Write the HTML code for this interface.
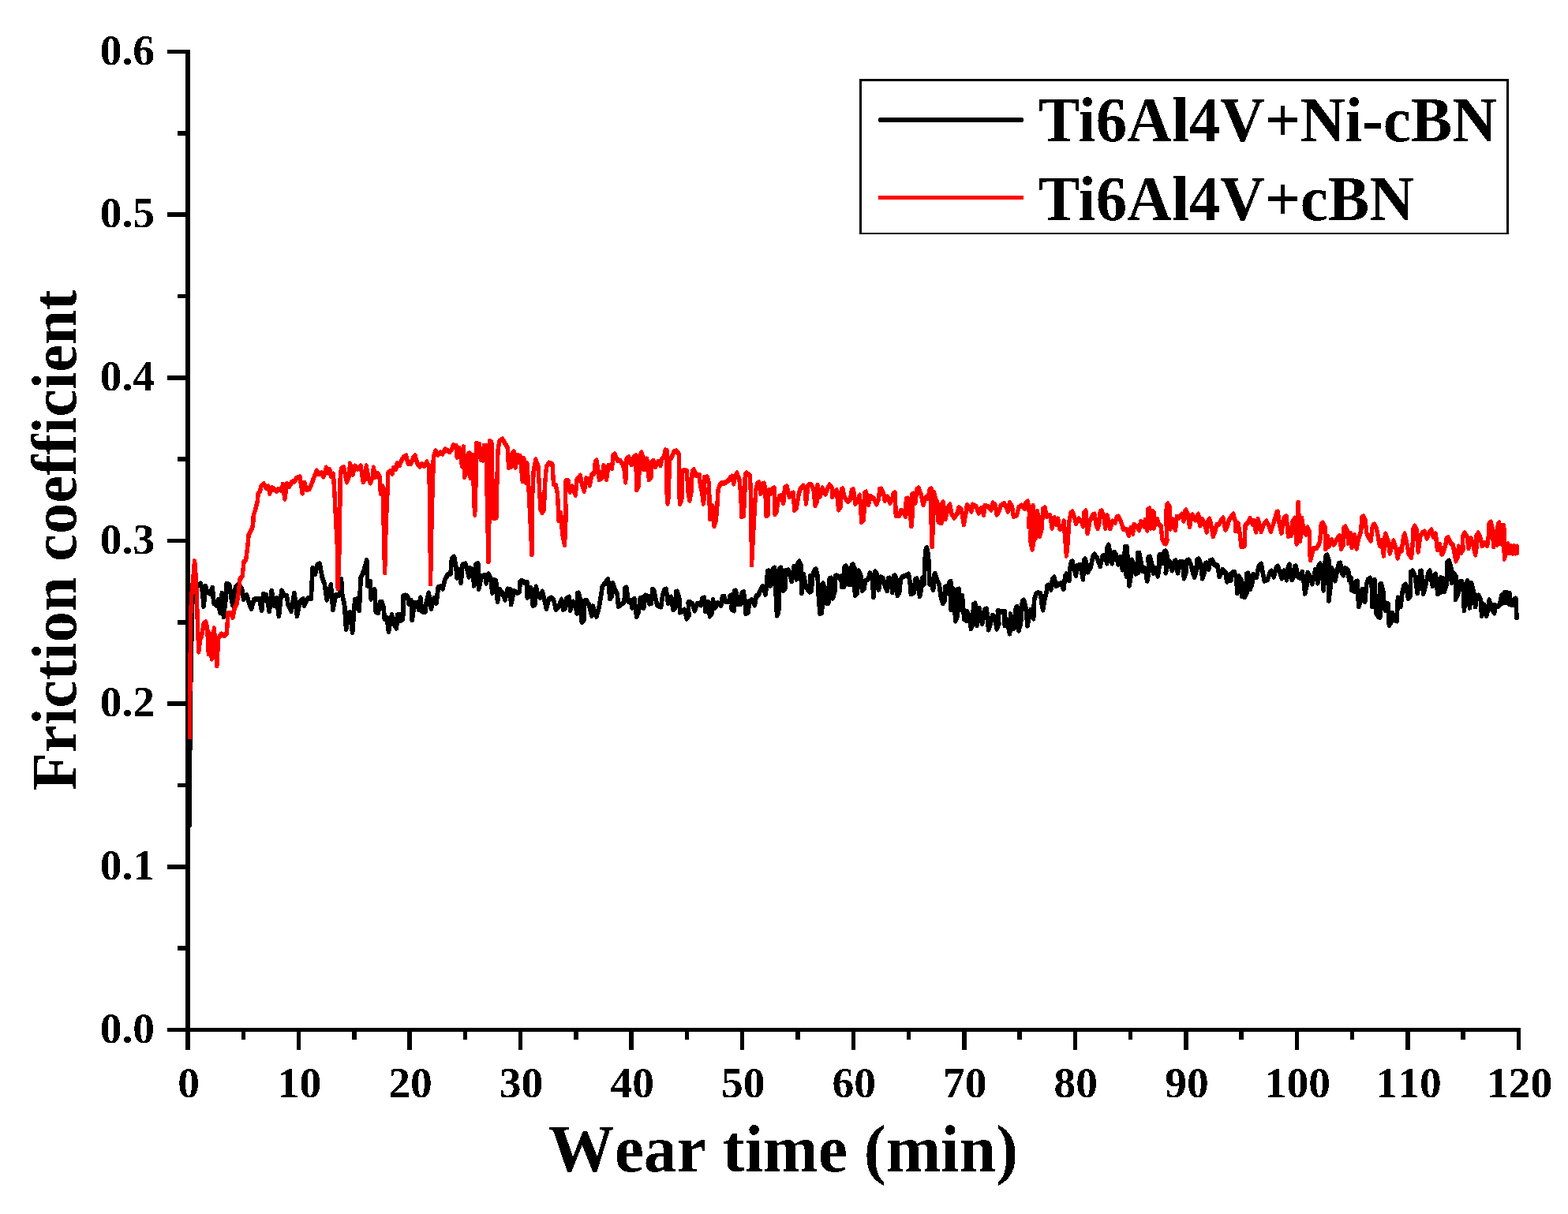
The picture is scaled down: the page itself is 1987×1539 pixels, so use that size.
<!DOCTYPE html>
<html lang="en">
<head>
<meta charset="utf-8">
<title>Friction coefficient vs wear time</title>
<style>
html,body{margin:0;padding:0;background:#fff;}
body{width:1987px;height:1539px;overflow:hidden;}
svg{display:block;}
text{font-family:"Liberation Serif","DejaVu Serif",serif;font-weight:bold;fill:#000;font-kerning:none;font-variant-ligatures:none;font-feature-settings:"kern" 0,"liga" 0,"clig" 0;}
.tick{font-size:55.5px;}
.title{font-size:85px;}
.ytitle{font-size:80.5px;}
.leg{font-size:79.5px;font-kerning:normal;font-feature-settings:"kern" 1,"liga" 0,"clig" 0;}
</style>
</head>
<body>
<svg width="1987" height="1539" viewBox="0 0 1987 1539">
<defs>
<filter id="crisp" x="-5%" y="-5%" width="110%" height="110%" color-interpolation-filters="sRGB">
<feComponentTransfer><feFuncA type="discrete" tableValues="0 1"/></feComponentTransfer>
</filter>
</defs>
<rect x="0" y="0" width="1987" height="1539" fill="#ffffff"/>

<g shape-rendering="crispEdges" fill="#000">
<rect x="235" y="63" width="6" height="1268"/>
<rect x="212" y="1303" width="1715" height="5"/>
<rect x="212" y="1303" width="24" height="5"/>
<rect x="225" y="1199" width="11" height="6"/>
<rect x="212" y="1096" width="24" height="6"/>
<rect x="225" y="993" width="11" height="5"/>
<rect x="212" y="889" width="24" height="6"/>
<rect x="225" y="786" width="11" height="6"/>
<rect x="212" y="683" width="24" height="5"/>
<rect x="225" y="579" width="11" height="6"/>
<rect x="212" y="476" width="24" height="6"/>
<rect x="225" y="373" width="11" height="5"/>
<rect x="212" y="269" width="24" height="6"/>
<rect x="225" y="166" width="11" height="6"/>
<rect x="212" y="63" width="24" height="5"/>
<rect x="235" y="1305" width="6" height="26"/>
<rect x="306" y="1305" width="5" height="13"/>
<rect x="376" y="1305" width="5" height="26"/>
<rect x="446" y="1305" width="6" height="13"/>
<rect x="516" y="1305" width="6" height="26"/>
<rect x="587" y="1305" width="5" height="13"/>
<rect x="657" y="1305" width="5" height="26"/>
<rect x="727" y="1305" width="6" height="13"/>
<rect x="797" y="1305" width="6" height="26"/>
<rect x="868" y="1305" width="5" height="13"/>
<rect x="938" y="1305" width="5" height="26"/>
<rect x="1008" y="1305" width="6" height="13"/>
<rect x="1079" y="1305" width="5" height="26"/>
<rect x="1149" y="1305" width="5" height="13"/>
<rect x="1219" y="1305" width="6" height="26"/>
<rect x="1289" y="1305" width="6" height="13"/>
<rect x="1360" y="1305" width="5" height="26"/>
<rect x="1430" y="1305" width="5" height="13"/>
<rect x="1500" y="1305" width="6" height="26"/>
<rect x="1570" y="1305" width="6" height="13"/>
<rect x="1641" y="1305" width="5" height="26"/>
<rect x="1711" y="1305" width="5" height="13"/>
<rect x="1781" y="1305" width="6" height="26"/>
<rect x="1851" y="1305" width="6" height="13"/>
<rect x="1922" y="1305" width="5" height="26"/>
</g>
<g filter="url(#crisp)">
<text class="tick" x="196" y="1321.5" text-anchor="end">0.0</text>
<text class="tick" x="196" y="1114.8" text-anchor="end">0.1</text>
<text class="tick" x="196" y="908.2" text-anchor="end">0.2</text>
<text class="tick" x="196" y="701.5" text-anchor="end">0.3</text>
<text class="tick" x="196" y="494.8" text-anchor="end">0.4</text>
<text class="tick" x="196" y="288.2" text-anchor="end">0.5</text>
<text class="tick" x="196" y="81.5" text-anchor="end">0.6</text>
<text class="tick" x="239.0" y="1391" text-anchor="middle">0</text>
<text class="tick" x="379.5" y="1391" text-anchor="middle">10</text>
<text class="tick" x="520.1" y="1391" text-anchor="middle">20</text>
<text class="tick" x="660.6" y="1391" text-anchor="middle">30</text>
<text class="tick" x="801.2" y="1391" text-anchor="middle">40</text>
<text class="tick" x="941.7" y="1391" text-anchor="middle">50</text>
<text class="tick" x="1082.2" y="1391" text-anchor="middle">60</text>
<text class="tick" x="1222.8" y="1391" text-anchor="middle">70</text>
<text class="tick" x="1363.3" y="1391" text-anchor="middle">80</text>
<text class="tick" x="1503.9" y="1391" text-anchor="middle">90</text>
<text class="tick" x="1644.4" y="1391" text-anchor="middle">100</text>
<text class="tick" x="1785.0" y="1391" text-anchor="middle">110</text>
<text class="tick" x="1925.5" y="1391" text-anchor="middle">120</text>
</g>
<g shape-rendering="crispEdges">
<polyline transform="scale(1,1.2)" points="240.2,871.7 240.4,816.7 241.3,737.5 242.5,683.3 243.8,633.3 245.5,620.8 254.2,616.7 256.7,625.4 258.2,640.5 260.4,619.2 262.7,625.4 265.8,627.0 269.3,620.9 270.8,637.1 274.3,639.6 276.3,633.7 278.9,647.2 281.4,626.8 283.4,651.5 285.9,633.7 287.2,616.7 290.9,618.2 293.5,633.7 295.0,639.6 298.5,620.3 302.0,617.0 306.5,622.0 308.6,632.9 312.6,628.7 315.6,637.1 318.6,643.1 321.7,633.7 324.7,632.5 328.7,632.9 331.7,644.8 333.7,627.5 337.3,628.7 341.3,645.7 344.3,624.1 347.3,639.6 350.4,632.1 353.4,650.7 356.9,624.1 359.9,628.7 363.4,629.5 365.0,638.8 369.0,645.7 373.0,626.6 376.5,650.7 380.1,635.4 384.1,632.9 385.6,639.6 390.1,632.1 394.2,632.1 396.2,600.2 399.2,606.5 402.2,596.8 405.2,595.6 408.3,610.2 411.3,617.0 414.3,633.7 416.3,625.4 419.3,617.8 421.9,644.0 425.4,628.7 430.0,628.7 432.5,611.9 433.5,627.0 436.6,639.6 438.6,664.8 441.6,648.0 443.6,647.2 446.6,668.2 449.7,633.7 452.2,632.9 455.2,644.7 457.2,610.2 461.2,602.7 464.8,591.8 465.8,618.6 469.3,614.4 470.3,632.9 474.8,622.8 476.3,646.3 479.4,647.2 481.4,636.3 483.9,635.8 485.9,641.3 487.4,653.9 490.4,653.0 492.5,667.3 495.5,653.0 496.5,649.7 499.0,658.9 502.5,663.5 503.5,649.7 506.0,649.3 507.6,655.6 510.6,653.9 511.1,629.5 513.6,629.1 516.6,630.0 518.1,637.9 521.2,634.6 522.2,655.1 525.2,637.1 528.7,636.7 530.7,643.8 532.7,631.6 534.7,645.9 538.8,646.3 540.3,636.3 543.3,626.6 546.3,643.0 549.9,632.1 552.9,637.1 555.4,620.3 558.9,619.5 560.9,622.0 564.0,611.9 567.5,606.9 571.0,606.1 572.5,590.1 575.5,588.3 578.1,600.2 579.1,610.2 581.6,601.9 584.1,615.7 586.1,596.8 589.6,595.6 592.1,601.9 594.2,609.4 595.7,600.2 599.2,602.7 600.7,618.6 603.2,596.0 605.7,595.6 606.8,622.0 610.3,608.6 615.3,607.7 616.3,616.1 619.3,606.5 621.9,611.1 623.9,626.2 626.4,612.8 628.5,613.6 630.5,635.4 633.0,622.8 636.6,626.2 640.1,633.7 643.1,622.4 646.6,622.8 647.6,638.4 651.2,624.5 655.2,626.2 658.2,625.4 659.2,614.4 661.4,613.4 665.3,615.7 667.8,615.3 668.3,631.2 671.3,628.7 672.8,621.2 675.3,639.6 677.8,638.8 679.4,619.9 681.4,628.7 684.4,631.2 687.4,624.9 689.4,632.1 692.5,643.0 695.5,632.9 698.5,631.6 701.5,633.7 704.5,643.8 707.6,641.3 711.6,633.3 713.6,643.8 716.6,642.1 718.1,632.1 721.2,630.8 722.7,644.7 726.2,635.8 728.7,638.8 731.2,648.0 731.7,627.0 733.2,626.6 735.3,633.7 737.3,657.2 739.8,655.6 740.8,634.6 743.3,634.2 746.3,638.8 749.9,650.5 751.4,640.5 755.9,651.4 758.9,642.1 760.9,632.9 763.4,619.5 765.0,617.8 768.0,614.4 770.5,612.3 773.0,632.5 775.5,629.5 776.5,616.1 779.1,622.8 782.1,627.0 783.6,640.5 788.1,637.9 791.1,635.4 792.1,621.2 793.7,620.7 796.2,635.4 799.2,634.6 801.2,642.1 803.7,632.5 806.8,651.4 809.3,646.3 811.3,632.1 814.3,631.2 815.8,642.1 817.8,629.1 821.4,630.4 822.9,637.9 825.4,637.1 826.9,622.8 828.5,623.3 831.0,633.7 833.0,639.6 837.6,640.9 839.6,629.5 842.1,622.8 844.1,622.4 846.6,637.1 850.2,630.8 853.2,644.2 855.7,642.1 856.7,625.4 858.2,624.9 860.7,632.1 861.7,646.8 865.3,645.5 867.3,644.2 870.3,653.5 872.8,650.5 872.3,636.3 873.8,635.8 877.3,637.9 880.4,645.1 883.4,637.9 885.9,637.9 888.4,639.2 889.9,632.1 892.5,631.6 894.0,645.9 897.5,636.3 899.5,650.9 902.0,648.0 903.5,633.7 906.0,642.1 909.6,637.1 913.6,639.6 915.6,630.4 917.6,630.0 919.6,635.4 923.7,635.4 925.2,629.5 927.7,628.7 927.2,643.8 930.2,645.1 930.7,624.5 932.2,624.1 934.2,630.4 935.3,638.4 938.8,637.9 940.3,626.2 942.3,625.4 943.8,633.7 945.3,648.4 948.3,646.3 949.3,635.4 952.9,633.7 956.4,639.2 958.4,629.5 960.9,628.7 964.0,622.8 966.5,619.5 970.0,627.9 972.0,617.0 972.5,603.5 974.5,603.1 976.5,618.6 979.1,615.3 980.1,600.2 981.6,599.9 983.1,625.4 984.6,650.1 986.6,647.2 988.1,600.2 989.6,599.9 992.7,623.7 994.7,622.0 995.7,602.7 999.2,602.3 1003.2,614.0 1006.2,598.5 1009.3,611.9 1011.3,594.3 1012.8,593.2 1014.8,596.8 1015.8,626.6 1018.3,606.9 1021.4,620.3 1025.9,625.4 1026.9,608.6 1028.0,624.5 1030.0,606.9 1032.5,601.9 1034.0,601.4 1036.1,608.6 1037.6,633.7 1039.1,648.0 1041.6,647.2 1042.1,617.0 1043.1,616.5 1045.6,622.0 1047.1,637.1 1049.7,637.1 1051.2,611.1 1053.2,610.7 1055.2,632.1 1057.7,625.4 1058.7,608.6 1060.2,608.1 1063.2,610.2 1065.8,609.0 1066.8,619.5 1069.8,619.5 1070.3,598.5 1072.3,598.1 1074.8,603.5 1075.8,617.0 1078.4,617.0 1079.4,596.8 1080.9,596.4 1082.9,600.2 1083.4,628.7 1085.9,627.0 1086.4,603.5 1088.4,603.1 1090.9,608.6 1092.5,623.7 1095.0,622.0 1096.5,613.6 1100.0,611.9 1102.5,605.6 1105.0,608.6 1107.1,630.8 1109.1,604.0 1111.6,606.9 1113.6,622.8 1116.1,609.8 1119.1,611.1 1121.2,618.6 1124.2,624.1 1125.7,611.1 1127.2,610.7 1129.7,615.3 1130.7,625.8 1132.7,608.6 1134.2,608.1 1136.3,612.8 1137.3,629.1 1139.8,625.4 1141.3,611.9 1143.8,609.4 1147.8,608.1 1151.4,606.5 1153.4,617.0 1154.4,627.5 1157.9,626.2 1159.9,611.9 1161.9,611.5 1164.0,622.0 1165.5,630.0 1167.5,622.0 1168.5,611.5 1171.0,617.0 1172.0,591.8 1173.5,579.2 1174.5,578.9 1176.5,587.6 1178.1,617.0 1180.1,615.3 1182.6,623.3 1184.1,606.5 1185.1,606.1 1187.6,612.8 1190.1,617.0 1192.1,629.5 1194.7,637.5 1196.7,635.4 1197.7,620.3 1200.2,619.1 1202.7,627.0 1203.2,614.9 1204.7,614.4 1205.2,644.2 1208.3,622.4 1210.8,656.0 1213.3,650.5 1213.8,622.8 1215.3,622.4 1217.3,643.8 1219.3,629.5 1221.9,653.9 1224.4,655.6 1225.4,646.3 1228.0,650.5 1230.5,664.1 1233.0,658.9 1233.5,638.8 1235.6,637.5 1238.1,660.6 1241.1,642.6 1244.6,658.9 1248.1,643.8 1250.2,643.2 1252.7,665.2 1255.2,658.9 1257.7,650.1 1260.7,652.2 1263.2,664.4 1265.8,658.9 1264.3,645.5 1268.3,645.9 1273.3,646.3 1273.3,660.6 1276.3,654.7 1279.4,669.4 1281.4,658.9 1280.4,648.9 1283.4,658.9 1284.9,664.0 1287.4,642.1 1288.9,640.9 1290.9,666.1 1293.5,658.9 1295.5,635.4 1297.5,634.2 1300.0,642.1 1302.0,661.0 1304.5,650.5 1306.0,644.2 1309.6,653.5 1310.6,633.7 1313.1,627.0 1315.1,626.4 1318.6,627.0 1320.1,637.9 1321.7,644.2 1323.7,633.7 1326.2,625.4 1327.2,618.6 1328.7,618.2 1331.7,622.8 1333.7,611.9 1335.8,609.8 1338.3,619.1 1341.8,617.0 1344.8,616.1 1347.8,622.4 1349.9,608.6 1351.4,606.5 1354.9,613.2 1355.9,600.2 1357.4,593.9 1358.9,593.2 1360.9,600.2 1363.4,608.1 1365.0,597.7 1369.0,596.8 1372.5,611.9 1373.5,591.8 1375.0,590.7 1377.0,596.0 1378.6,604.4 1382.1,599.3 1385.1,587.6 1386.9,585.7 1390.1,589.3 1394.2,598.1 1397.2,587.6 1400.2,586.7 1402.7,595.1 1403.2,578.4 1404.7,575.8 1406.8,583.4 1409.3,595.1 1411.8,583.4 1414.3,585.9 1416.8,596.0 1419.8,588.4 1422.4,601.9 1424.4,591.8 1425.9,577.5 1427.4,608.6 1428.0,577.9 1429.5,596.4 1431.0,618.6 1433.0,609.0 1432.5,592.2 1434.5,591.6 1436.6,596.4 1439.1,606.0 1442.1,604.8 1441.6,584.6 1443.6,584.2 1446.6,596.4 1447.6,603.1 1451.2,600.6 1453.7,613.6 1455.7,604.8 1455.2,588.8 1457.2,588.2 1459.7,596.4 1461.7,605.6 1463.8,600.1 1467.3,608.5 1469.3,596.4 1469.3,586.3 1471.3,585.9 1473.5,594.7 1475.3,582.9 1477.3,582.3 1479.4,588.0 1477.3,605.2 1480.9,592.2 1482.9,593.8 1485.4,602.7 1488.4,593.0 1489.9,592.4 1492.5,605.2 1495.0,593.8 1498.5,593.8 1500.5,611.0 1503.0,604.8 1504.0,592.2 1506.5,591.6 1509.1,596.4 1511.6,604.8 1513.6,609.4 1515.6,604.8 1517.1,591.3 1519.1,590.5 1521.7,596.4 1523.7,611.0 1526.2,604.8 1527.2,595.5 1529.2,594.7 1531.7,601.4 1533.7,592.2 1536.3,591.6 1538.8,596.4 1542.8,597.6 1545.3,609.0 1549.3,601.8 1552.9,604.8 1554.9,614.4 1557.9,607.3 1559.9,613.1 1561.9,604.8 1564.0,604.2 1566.5,609.0 1568.0,626.6 1570.0,609.0 1573.0,613.1 1574.0,629.9 1576.0,617.3 1577.5,630.8 1580.1,625.7 1579.6,606.4 1581.6,605.8 1584.1,622.4 1586.6,617.3 1588.1,606.9 1592.1,609.8 1595.2,598.0 1598.2,595.8 1600.2,604.8 1602.2,613.6 1606.2,612.3 1609.3,604.8 1611.3,603.3 1614.3,609.4 1617.3,599.7 1619.3,598.3 1621.9,604.8 1624.4,611.0 1626.9,603.1 1628.0,606.3 1630.5,612.6 1632.5,598.8 1634.0,596.5 1637.1,612.6 1639.6,608.9 1640.6,598.4 1642.1,598.0 1644.6,608.9 1647.1,610.5 1650.2,604.2 1652.7,617.3 1653.7,626.9 1656.2,617.3 1657.2,605.1 1660.2,608.9 1662.7,616.8 1665.3,608.9 1666.8,601.7 1669.8,616.0 1671.3,597.1 1672.8,595.7 1675.3,600.5 1677.3,623.5 1679.4,592.1 1680.4,587.0 1681.9,586.5 1683.9,592.1 1683.9,634.5 1686.4,617.3 1687.4,600.1 1690.4,604.7 1691.9,613.5 1695.0,600.5 1696.5,595.4 1698.5,594.8 1700.5,605.5 1702.5,607.6 1704.5,600.1 1708.6,603.0 1709.6,612.6 1712.1,610.5 1712.6,623.1 1716.6,624.8 1718.1,614.7 1720.1,614.1 1721.7,640.8 1724.7,634.0 1726.2,622.7 1729.7,635.7 1731.7,617.3 1733.7,612.2 1736.3,610.8 1738.3,617.3 1738.8,640.8 1741.8,612.6 1743.8,647.5 1746.8,651.7 1748.8,652.1 1748.8,617.3 1750.4,616.7 1752.9,625.6 1754.4,642.4 1755.9,644.9 1758.9,637.8 1760.4,660.5 1762.9,657.5 1764.5,647.5 1767.0,655.0 1770.0,655.9 1771.5,631.5 1775.0,640.8 1777.0,625.6 1779.1,618.9 1781.6,617.5 1784.6,632.4 1787.1,629.8 1787.6,604.7 1790.1,603.2 1793.2,608.9 1796.2,626.5 1799.2,608.9 1799.7,603.8 1801.2,603.2 1803.7,627.3 1806.8,617.3 1810.3,604.7 1811.8,603.2 1815.3,618.9 1817.8,607.2 1819.3,606.6 1821.9,627.3 1825.4,625.6 1825.9,610.5 1828.3,611.0 1830.3,624.8 1833.3,617.3 1833.8,593.8 1836.3,592.5 1838.9,600.5 1839.4,615.6 1841.9,605.5 1844.9,608.9 1844.4,633.2 1848.4,625.6 1849.9,614.7 1852.5,614.3 1854.5,625.6 1855.5,644.9 1857.5,617.3 1859.5,613.5 1862.5,642.0 1864.5,616.0 1867.6,625.6 1869.6,640.8 1871.6,629.8 1873.6,629.0 1876.6,634.0 1877.6,650.4 1880.7,639.1 1883.7,650.4 1886.2,642.4 1887.2,634.0 1889.7,642.4 1893.7,647.5 1893.7,639.1 1897.8,640.8 1900.8,638.2 1902.8,629.0 1904.3,637.0 1906.3,626.3 1908.3,636.6 1909.4,625.9 1911.9,637.8 1912.9,626.9 1913.7,638.2 1917.9,639.1 1918.9,632.8 1920.9,632.4 1921.4,642.4 1921.9,652.5" fill="none" stroke="#000000" stroke-width="5.7" stroke-linejoin="round" stroke-linecap="round"/>
<polyline transform="scale(1,1.28)" points="240.5,729.7 241.0,660.2 241.8,607.5 242.7,590.2 245.1,570.5 245.9,561.1 246.6,556.0 247.3,561.1 248.1,570.5 249.3,589.4 250.4,617.7 251.8,645.4 253.7,633.5 255.7,629.5 258.2,617.7 260.7,616.2 262.7,621.7 264.3,647.6 266.3,628.0 268.3,652.4 271.3,622.5 274.8,659.4 276.8,631.9 280.4,628.0 284.4,629.5 287.4,627.2 288.9,607.5 292.5,607.1 295.0,611.4 297.5,602.0 300.0,598.1 302.5,586.3 304.0,573.7 307.1,570.5 309.1,556.4 311.6,554.8 313.1,545.4 314.1,539.1 315.1,529.7 318.6,525.0 320.6,520.2 321.2,510.8 323.7,504.5 326.2,496.6 327.2,488.8 329.7,486.4 330.7,481.7 334.2,479.3 337.3,483.3 339.8,481.7 341.8,488.8 344.8,483.3 347.8,484.8 350.4,486.4 353.4,484.4 356.9,485.6 358.4,479.7 360.9,493.9 363.4,479.3 366.5,481.7 370.0,477.4 373.0,477.0 376.0,473.4 380.1,472.4 383.1,488.4 386.1,478.2 388.1,484.8 392.1,484.1 395.2,478.5 398.2,472.3 401.2,466.4 404.2,469.5 407.3,468.3 409.8,471.9 412.3,468.3 413.3,463.2 416.3,468.3 417.8,465.2 419.3,471.5 422.4,469.5 423.9,488.0 427.2,539.1 428.2,582.8 430.3,539.1 431.0,488.8 431.3,468.3 433.0,463.6 435.6,462.8 438.1,473.0 439.6,477.4 442.1,472.3 443.6,459.3 447.1,469.9 449.7,461.6 453.2,464.4 457.2,461.6 460.2,477.4 462.7,474.6 464.3,461.6 466.8,473.0 469.3,478.2 472.3,472.3 473.3,463.2 475.8,472.3 478.4,469.1 480.9,471.5 482.4,488.8 484.9,481.7 486.2,520.2 487.6,567.2 489.1,520.2 490.9,488.8 491.9,468.3 494.5,466.7 497.0,469.1 498.5,463.6 502.0,464.4 503.0,459.3 506.5,460.5 508.6,456.5 511.6,452.6 514.6,451.4 517.1,458.9 520.6,458.9 523.7,453.4 526.2,451.4 528.7,458.9 531.7,462.0 534.7,459.7 537.8,461.6 540.8,457.7 543.8,462.0 544.8,504.5 545.5,578.1 547.3,504.5 548.8,469.9 549.3,452.6 551.9,446.7 554.9,450.2 557.9,448.3 560.9,449.4 564.0,445.1 567.0,446.3 570.0,447.5 573.0,444.7 574.0,441.2 578.1,441.6 579.1,452.6 582.1,443.9 584.1,454.2 585.6,462.0 587.6,442.8 588.6,472.3 591.1,468.3 593.2,449.4 595.2,449.0 596.2,473.4 599.2,451.0 600.7,496.6 601.7,509.6 603.2,473.0 603.7,439.6 607.3,440.0 609.3,454.9 611.8,455.7 613.3,441.6 616.3,441.6 617.3,496.6 619.0,556.2 620.3,496.6 620.8,436.9 622.9,438.4 624.4,496.6 625.9,513.2 629.0,512.4 630.0,473.0 631.0,445.5 633.0,436.9 636.6,434.9 640.1,439.2 643.1,443.1 644.6,462.8 647.6,462.0 649.1,448.7 651.2,447.5 653.2,462.8 655.7,451.0 659.2,451.8 662.2,476.6 663.8,454.2 666.8,477.8 667.8,458.9 669.8,480.9 672.3,520.2 674.0,549.2 674.8,488.8 676.3,465.2 678.9,455.3 681.9,462.0 683.4,480.9 684.9,504.5 686.9,507.7 689.4,504.5 690.4,480.9 692.5,462.0 695.5,458.5 700.0,459.7 701.5,479.3 704.5,480.9 706.5,488.8 708.1,515.5 710.6,508.4 712.6,528.1 715.5,539.8 717.1,512.4 716.6,488.8 717.1,476.2 720.1,476.2 722.2,487.2 725.2,481.7 729.2,490.4 731.2,474.6 735.3,471.1 737.8,480.9 740.3,486.4 742.8,473.8 745.3,474.6 747.3,480.5 749.9,469.9 752.9,469.1 754.4,457.3 755.9,456.1 757.9,465.2 759.4,475.0 762.9,473.0 765.0,461.2 768.5,475.0 771.0,461.2 774.0,462.0 775.5,463.6 777.0,451.0 779.1,449.8 782.1,455.7 786.1,456.5 789.1,459.7 791.1,465.2 792.7,477.4 794.2,454.2 796.7,453.0 800.2,460.1 803.2,452.6 805.7,451.4 806.8,485.2 809.3,480.9 810.8,451.0 812.8,448.3 815.3,453.4 815.8,464.8 818.8,464.4 819.8,454.6 822.4,475.0 824.9,473.0 825.9,457.3 828.0,456.5 830.5,462.4 834.0,457.3 837.1,460.8 839.1,454.2 841.6,452.6 843.1,445.9 845.1,446.3 845.1,488.8 846.1,498.6 847.6,488.8 848.1,455.7 851.2,452.6 854.2,447.1 856.7,446.7 860.2,449.4 860.7,488.8 861.7,499.0 863.8,495.1 864.8,466.7 867.3,465.6 870.3,466.7 872.3,488.8 873.8,495.5 875.8,488.8 877.3,466.7 879.4,465.4 882.4,470.7 886.4,470.3 887.4,480.9 889.9,488.8 891.4,498.6 893.0,488.8 892.5,473.0 896.5,472.5 898.5,479.3 899.0,496.6 900.0,514.0 903.0,501.4 905.0,521.0 907.1,516.3 908.6,504.5 910.1,484.8 912.1,480.1 915.1,478.2 918.6,478.2 922.7,476.2 925.7,473.0 927.7,471.9 929.7,478.9 931.7,471.5 933.7,468.6 936.8,474.6 938.8,488.8 939.8,511.6 942.3,510.8 943.8,488.8 944.3,469.9 946.3,468.6 950.4,471.5 951.4,488.8 952.1,528.1 952.5,559.4 955.1,521.0 956.9,496.6 957.9,484.8 959.9,478.5 961.9,477.9 964.0,488.8 966.5,479.3 968.5,478.9 970.0,488.8 971.0,510.8 973.0,510.0 974.0,485.6 975.5,485.2 977.0,488.8 979.1,484.1 981.1,483.4 982.1,509.2 984.1,506.9 985.6,496.6 987.6,491.9 989.6,490.7 992.7,498.2 994.7,482.5 997.2,481.9 1000.2,491.9 1003.2,488.8 1005.2,488.2 1006.8,505.3 1009.3,502.9 1012.3,488.8 1014.3,484.1 1017.8,481.3 1020.3,484.8 1021.4,498.6 1023.9,480.9 1025.9,479.7 1028.0,480.0 1031.0,484.7 1033.0,500.8 1035.6,496.5 1036.1,480.4 1039.1,491.8 1042.1,483.5 1046.1,489.4 1049.1,483.1 1051.2,480.4 1054.2,483.1 1054.7,491.8 1058.2,487.1 1060.2,485.6 1062.7,504.8 1065.3,502.0 1066.3,484.7 1067.8,484.2 1070.3,492.6 1074.3,496.5 1077.3,494.9 1079.4,485.5 1081.4,484.9 1083.9,498.9 1087.4,494.1 1089.4,490.6 1091.9,517.0 1094.5,514.6 1096.0,487.9 1097.5,487.3 1100.5,499.7 1103.0,491.4 1107.6,494.1 1110.6,499.3 1113.6,494.1 1114.6,484.7 1116.6,484.2 1119.6,488.6 1121.2,495.7 1124.7,492.2 1127.7,498.1 1130.7,494.9 1132.2,488.6 1134.2,488.1 1135.3,510.7 1139.8,510.7 1141.8,505.6 1145.3,508.3 1147.8,511.5 1148.3,494.1 1150.4,493.6 1153.4,508.3 1154.9,521.1 1156.4,508.3 1155.9,489.4 1157.9,489.0 1159.9,498.1 1161.9,484.7 1164.0,483.4 1167.0,489.4 1170.0,500.0 1173.0,492.6 1176.0,493.4 1178.1,484.7 1180.1,484.2 1180.1,516.2 1181.1,541.5 1182.6,516.2 1183.6,487.9 1185.1,492.6 1188.1,498.9 1189.1,517.0 1193.2,517.7 1194.2,498.1 1195.2,497.5 1198.2,513.8 1201.2,502.8 1203.7,499.9 1206.2,509.9 1209.3,512.6 1213.3,508.3 1214.8,503.0 1218.3,504.4 1221.4,519.5 1223.9,508.3 1225.4,500.4 1228.0,502.6 1231.0,506.5 1232.5,499.8 1237.1,501.8 1240.1,508.1 1243.1,503.4 1246.6,509.7 1248.1,501.0 1252.2,501.8 1255.7,504.9 1258.2,498.3 1261.2,500.2 1263.2,509.7 1266.3,505.7 1267.8,501.0 1272.3,498.6 1275.3,501.8 1277.3,506.5 1279.4,497.9 1282.4,501.8 1284.4,511.2 1288.4,510.4 1290.9,502.6 1294.5,500.6 1298.5,503.4 1300.0,497.9 1302.5,496.7 1304.5,508.1 1303.5,521.5 1306.8,512.8 1305.7,535.6 1308.1,543.9 1310.1,535.6 1309.1,501.0 1312.1,533.3 1314.1,523.8 1314.6,506.5 1316.6,519.9 1317.6,530.9 1320.1,523.8 1321.7,504.2 1324.2,503.0 1326.2,511.2 1330.7,510.4 1333.2,523.0 1336.3,512.8 1338.8,519.1 1340.8,514.0 1342.8,523.8 1346.3,523.0 1348.1,516.2 1349.6,531.7 1351.4,550.2 1353.4,535.6 1354.4,519.1 1356.9,508.1 1358.9,506.9 1361.4,512.0 1363.4,518.3 1367.0,513.6 1371.0,517.5 1372.5,521.1 1374.0,507.3 1376.0,506.1 1378.1,528.2 1381.1,516.0 1385.1,509.7 1387.1,509.3 1389.1,519.9 1391.1,523.4 1393.7,516.0 1394.2,506.9 1396.2,506.1 1398.7,511.2 1400.7,523.0 1403.2,510.8 1406.8,523.4 1409.8,516.3 1413.3,517.5 1415.3,512.0 1417.3,511.6 1420.3,516.0 1423.4,523.8 1428.0,524.5 1430.5,530.4 1433.0,522.9 1435.6,528.4 1437.1,519.8 1440.1,521.3 1443.6,524.9 1445.6,516.6 1449.7,521.3 1451.2,515.0 1453.7,525.3 1454.7,504.8 1456.7,503.8 1458.4,522.9 1460.2,506.4 1462.7,508.0 1462.2,522.9 1466.3,514.2 1468.8,519.8 1471.3,521.3 1472.8,533.9 1475.3,537.8 1477.3,538.4 1478.9,535.5 1477.8,511.9 1478.4,500.1 1479.9,499.1 1481.9,501.7 1482.9,523.7 1485.4,514.2 1489.4,524.9 1491.4,511.9 1494.0,512.7 1497.5,509.5 1500.0,515.8 1501.5,506.4 1503.0,505.4 1505.0,508.7 1507.6,521.7 1509.6,511.9 1511.1,510.1 1514.6,515.0 1516.6,511.9 1518.6,509.3 1520.6,520.5 1523.7,514.2 1526.7,519.8 1529.2,526.8 1531.2,515.0 1532.7,514.0 1534.7,519.8 1537.3,531.2 1539.8,526.0 1541.8,519.8 1545.3,519.0 1548.3,514.2 1549.9,513.2 1552.9,524.5 1555.9,519.8 1557.4,515.0 1560.9,511.1 1562.9,509.3 1565.5,516.6 1566.0,525.7 1569.0,518.2 1571.0,527.6 1573.0,541.2 1577.0,540.6 1578.1,519.8 1581.1,518.2 1584.1,513.5 1587.1,519.0 1589.1,515.8 1591.6,526.8 1594.2,514.2 1598.2,526.4 1601.2,519.8 1604.7,516.2 1608.3,521.3 1610.3,526.4 1613.3,519.8 1616.3,511.9 1617.8,507.2 1619.3,506.9 1621.4,519.8 1623.9,528.0 1626.4,514.2 1628.0,512.6 1630.0,511.4 1632.5,530.7 1636.1,530.3 1637.6,517.3 1640.6,513.4 1643.1,538.6 1645.1,497.6 1647.6,535.4 1649.7,513.4 1652.2,526.7 1654.7,529.1 1656.7,522.4 1659.2,526.0 1659.7,547.2 1660.7,554.7 1663.2,547.2 1664.3,543.3 1668.3,542.9 1671.3,539.3 1672.8,535.4 1674.3,518.9 1676.3,517.9 1678.9,522.0 1679.9,543.7 1682.4,531.5 1684.4,540.9 1687.4,534.6 1690.4,539.3 1693.5,534.6 1697.5,530.7 1699.5,543.3 1702.5,539.3 1703.0,522.8 1705.0,521.8 1707.6,526.7 1708.6,537.8 1711.6,528.3 1713.1,542.1 1716.6,529.9 1719.1,543.3 1722.2,531.5 1724.7,526.7 1725.7,512.6 1727.7,511.6 1730.2,515.7 1731.7,527.5 1733.7,531.5 1737.3,535.4 1738.8,523.6 1740.3,519.7 1741.8,519.4 1744.3,523.6 1746.3,531.5 1748.3,540.1 1750.9,535.4 1753.4,550.4 1754.9,531.5 1755.9,528.9 1758.9,535.4 1761.4,548.0 1764.0,539.3 1766.0,535.8 1769.0,543.3 1771.0,552.6 1774.0,544.1 1776.0,545.6 1778.6,531.5 1780.1,528.9 1783.1,539.3 1785.1,548.8 1788.6,551.9 1790.1,539.3 1791.1,523.6 1792.7,521.0 1795.2,525.2 1797.2,546.4 1799.7,531.5 1802.2,527.9 1805.2,526.5 1808.3,533.0 1811.3,526.7 1813.8,524.9 1816.3,531.5 1819.3,528.7 1821.4,544.1 1824.4,539.3 1826.9,548.8 1827.8,548.4 1830.3,544.1 1831.8,539.3 1833.3,533.0 1835.3,532.5 1838.4,537.8 1841.4,540.1 1842.9,547.2 1844.9,555.5 1847.4,551.1 1848.4,541.3 1851.5,547.6 1854.0,544.1 1853.5,531.5 1856.0,528.1 1859.0,531.5 1861.0,542.9 1864.0,533.4 1866.6,539.3 1869.6,549.3 1871.6,539.3 1870.6,531.5 1873.1,528.1 1875.6,531.5 1878.1,540.5 1881.7,537.8 1884.7,540.5 1886.2,531.5 1887.2,518.1 1889.2,517.1 1891.2,523.6 1892.7,541.3 1895.3,527.1 1897.3,539.3 1898.3,518.9 1899.8,517.9 1901.3,537.8 1902.8,520.5 1904.3,539.3 1905.8,520.8 1906.3,553.3 1908.9,547.2 1910.9,538.9 1912.9,547.6 1914.9,540.9 1916.9,547.8 1918.9,540.9 1920.9,547.7 1922.4,541.3 1922.4,547.2" fill="none" stroke="#ff0000" stroke-width="5.4" stroke-linejoin="round" stroke-linecap="round"/>
</g>
<g filter="url(#crisp)"><text class="title" transform="translate(992.5,1485) scale(0.985,1)" text-anchor="middle">Wear time (min)</text></g>
<g filter="url(#crisp)"><text class="title ytitle" transform="translate(96,684.6) rotate(-90) scale(0.977,1)" text-anchor="middle">Friction coefficient</text></g>
<g shape-rendering="crispEdges">
<rect x="1089" y="100" width="823" height="197" fill="#000"/><rect x="1092" y="103" width="817" height="192" fill="#fff"/>
<rect x="1113" y="149" width="184" height="6" rx="3" fill="#000"/>
<rect x="1113" y="248" width="184" height="5" fill="#ff0000"/>
</g>
<g filter="url(#crisp)">
<text class="leg" transform="translate(1315.8,179.4) scale(0.99,1)">Ti6Al4V+Ni-cBN</text>
<text class="leg" transform="translate(1315.8,278.9) scale(0.99,1)">Ti6Al4V+cBN</text>
</g>

</svg>
</body>
</html>
